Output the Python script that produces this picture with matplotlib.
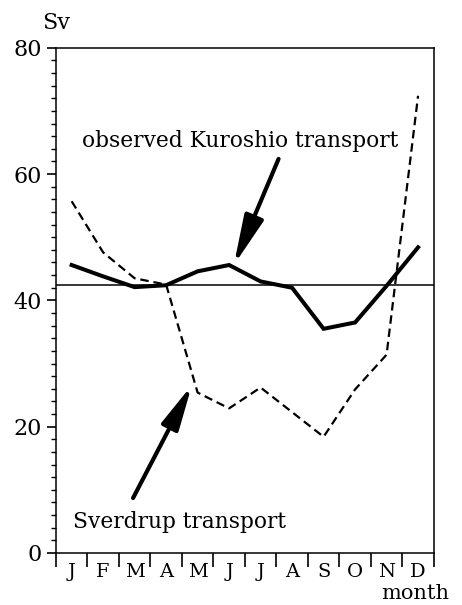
import numpy as np
import matplotlib
matplotlib.use("Agg")
import matplotlib.pyplot as plt

# monthly volume transport (Sv)
months = ['J', 'F', 'M', 'A', 'M', 'J', 'J', 'A', 'S', 'O', 'N', 'D']
kuroshio = [45.6, 43.8, 42.1, 42.4, 44.6, 45.6, 43.0, 42.0, 35.5, 36.5, 42.3, 48.4]
sverdrup = [55.7, 47.6, 43.5, 42.5, 25.4, 22.9, 26.2, 22.3, 18.4, 25.9, 31.4, 72.4]
mean_level = 42.5

plt.rcParams['font.family'] = ['DejaVu Serif']

fig = plt.figure(figsize=(4.62, 6.05), dpi=100)
ax = fig.add_axes([0.121, 0.086, 0.818, 0.835])

x = np.arange(len(months)) + 0.5
ax.plot(x, kuroshio, color='black', lw=2.9, solid_joinstyle='miter')
ax.plot(x, sverdrup, color='black', lw=1.6, linestyle=(0, (3.8, 2.2)))
ax.axhline(mean_level, color='black', lw=1.1)

ax.set_xlim(0, 12)
ax.set_ylim(0, 80)

# month ticks: marks between months, labels at the centres
ax.set_xticks(np.arange(0, 13))
ax.set_xticklabels([])
ax.set_xticks(x, minor=True)
ax.set_xticklabels(months, minor=True, fontsize=14)
ax.tick_params(axis='x', which='major', direction='out', length=10, width=1.2)
ax.tick_params(axis='x', which='minor', length=0, pad=7.5)

ax.set_yticks(np.arange(0, 81, 20))
ax.set_yticks(np.arange(0, 81, 2), minor=True)
ax.tick_params(axis='y', which='major', direction='out', length=6.5, width=1.2,
               labelsize=16, pad=3.5)
ax.tick_params(axis='y', which='minor', direction='out', length=3.5, width=1.0)

for s in ax.spines.values():
    s.set_linewidth(1.1)

ax.text(0, 1.05, 'Sv', transform=ax.transAxes, ha='center', va='center', fontsize=16)
ax.text(0.95, -0.0915, 'month', transform=ax.transAxes, ha='center', va='baseline',
        fontsize=15)

ax.text(0.83, 64.3, 'observed Kuroshio transport', ha='left', va='baseline',
        fontsize=15.7)
ax.text(0.54, 4.0, 'Sverdrup transport', ha='left', va='baseline', fontsize=15.7)

ax.annotate('', xy=(5.65, 45.6), xytext=(7.07, 62.4),
            arrowprops=dict(arrowstyle='-|>,head_length=3.0,head_width=0.6',
                            mutation_scale=10, lw=3, color='black',
                            shrinkA=0, shrinkB=0))
ax.annotate('', xy=(4.32, 26.6), xytext=(2.45, 8.7),
            arrowprops=dict(arrowstyle='-|>,head_length=2.7,head_width=0.55',
                            mutation_scale=10, lw=3, color='black',
                            shrinkA=0, shrinkB=0))

fig.savefig('out.png', dpi=100)
